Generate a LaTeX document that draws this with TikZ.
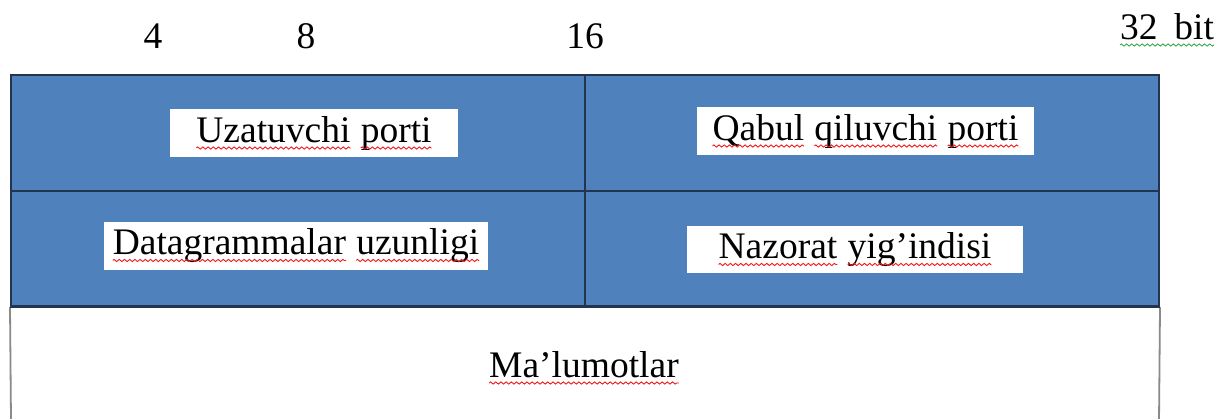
\documentclass[tikz,border=0pt]{standalone}
\usepackage{fontspec}
\setmainfont{Liberation Serif}
\usetikzlibrary{decorations.pathmorphing}
\definecolor{cellblue}{HTML}{4F81BD}
\definecolor{celledge}{HTML}{22344F}
\definecolor{sqred}{HTML}{F01818}
\definecolor{sqgreen}{HTML}{3DA84A}
\definecolor{sidegray}{HTML}{8A8A8A}
\newcommand\sq[2][sqred]{\tikz[baseline=(sqw.base)]{\node[inner sep=0pt,outer sep=0pt,draw=none,fill=none,minimum width=0pt,minimum height=0pt,anchor=center] (sqw) {#2};\draw[#1,fill=none,line width=0.45pt,decorate,decoration={zigzag,segment length=2.6pt,amplitude=0.55pt}] ([yshift=-3pt]sqw.base west) -- ([yshift=-3pt]sqw.base east);}}
\begin{document}
\begin{tikzpicture}[x=0.5pt,y=-0.5pt,
  font=\fontsize{18.75}{22}\selectfont,
  cellbox/.style={draw=celledge,line width=1pt,fill=cellblue,inner sep=0pt,minimum width=287pt},
  labelbox/.style={fill=white,inner sep=0pt,minimum height=24pt},
  toplabel/.style={anchor=base,inner sep=0pt},
  sideline/.style={draw=sidegray,line width=0.9pt}]
\useasboundingbox (0,0) rectangle (1218,418);
\fill[white] (0,0) rectangle (1218,418);
% blue cells
\node[cellbox,minimum height=58pt] (c1) at (298,133) {};
\node[cellbox,minimum height=58pt] (c2) at (872,133) {};
\node[cellbox,minimum height=57.5pt] (c3) at (298,248.5) {};
\node[cellbox,minimum height=57.5pt] (c4) at (872,248.5) {};
% open white area below
\coordinate (bl) at (11,420);
\coordinate (br) at (1159,420);
\draw[sideline] (c3.south west) -- (bl);
\draw[sideline] (c4.south east) -- (br);
\draw[draw=celledge,line width=1pt] (c3.south west) -- (c4.south east);
% labels
\node[labelbox,minimum width=144pt] (l1) at (314,133) {\sq{Uzatuvchi} \sq{porti}};
\node[labelbox,minimum width=168.5pt] (l2) at (865.5,131) {\sq{Qabul} \sq{qiluvchi} \sq{porti}};
\node[labelbox,minimum width=192pt] (l3) at (296,245.5) {\sq{Datagrammalar} \sq{uzunligi}};
\node[labelbox,minimum width=168pt,minimum height=23.5pt] (l4) at (855,249.5) {\sq{Nazorat} \sq{yig’indisi}};
\node[toplabel] (data) at (584,377) {\sq{Ma’lumotlar}};
% bit scale
\node[toplabel] (b4) at (153,48) {4};
\node[toplabel] (b8) at (306,48) {8};
\node[toplabel] (b16) at (585,48) {16};
\node[toplabel] (b32) at (1167,39) {\sq[sqgreen]{32\hspace{0.45em}bit}};
\end{tikzpicture}
\end{document}
